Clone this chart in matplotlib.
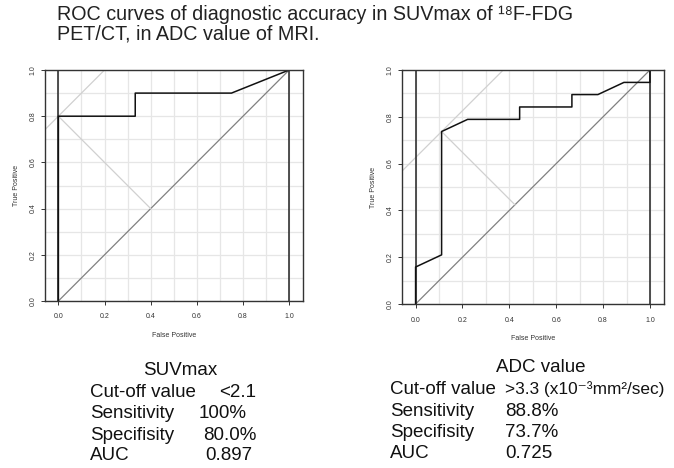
import matplotlib

matplotlib.use("Agg")
import matplotlib.pyplot as plt

plt.rcParams["font.family"] = ["Liberation Sans", "DejaVu Sans"]

# ROC points
suv_fpr = [0, 0, 0.333, 0.333, 0.75, 1]
suv_tpr = [0, 0.8, 0.8, 0.9, 0.9, 1]
suv_cut = (0.0, 0.8)

adc_fpr = [0, 0, 0.111, 0.111, 0.222, 0.444, 0.444, 0.667, 0.667, 0.778, 0.889, 1, 1]
adc_tpr = [0, 0.158, 0.21, 0.737, 0.789, 0.789, 0.842, 0.842, 0.895, 0.895, 0.947, 0.947, 1]
adc_cut = (0.111, 0.737)

ticks = [0.0, 0.2, 0.4, 0.6, 0.8, 1.0]
grid = [i / 10 for i in range(11)]

suv_rows = [("Cut-off value", "<2.1"), ("Sensitivity", "100%"),
            ("Specifisity", "80.0%"), ("AUC", "0.897")]
adc_rows = [("Cut-off value", ">3.3 (x10\u207b\u00b3mm\u00b2/sec)"),
            ("Sensitivity", "88.8%"), ("Specifisity", "73.7%"), ("AUC", "0.725")]

W, H = 674, 468
fig = plt.figure(figsize=(W / 100, H / 100), dpi=100)


def px(x, y):
    return x / W, 1 - y / H


def roc_panel(rect, fpr, tpr, cut):
    ax = fig.add_axes(rect)
    ax.set_xlim(-0.058, 1.06)
    ax.set_ylim(0, 1)
    for g in grid:
        ax.axvline(g, color="#e6e6e6", lw=0.9, zorder=0)
        ax.axhline(g, color="#e6e6e6", lw=0.9, zorder=0)
    ax.plot([0, 1], [0, 1], color="#808080", lw=0.9)
    fx, ty = cut
    ax.axline((fx, ty), slope=1, color="#d0d0d0", lw=0.9)
    m = (fx + ty) / 2  # foot of the perpendicular on the chance line
    ax.plot([fx, m], [ty, m], color="#d0d0d0", lw=0.9)
    ax.axvline(0, color="#222222", lw=1.1)
    ax.axvline(1, color="#222222", lw=1.1)
    ax.plot(fpr, tpr, color="#111111", lw=1.1)
    for s in ax.spines.values():
        s.set_color("#333333")
        s.set_linewidth(1.0)
    ax.set_xticks(ticks)
    ax.set_yticks(ticks)
    ax.set_xticklabels([f"{t:.1f}" for t in ticks])
    ax.set_yticklabels([f"{t:.1f}" for t in ticks], rotation=90, va="center")
    ax.tick_params(labelsize=5, colors="#333333", length=3, width=0.7)
    ax.tick_params(axis="x", pad=6)
    ax.tick_params(axis="y", pad=3)
    ax.set_xlabel("False Positive", fontsize=5, color="#333333", labelpad=8.5)
    ax.set_ylabel("True Positive", fontsize=5, color="#333333", labelpad=7)
    return ax


roc_panel([45 / W, 1 - 301 / H, 258 / W, 231 / H], suv_fpr, suv_tpr, suv_cut)
roc_panel([402 / W, 1 - 304 / H, 262 / W, 234 / H], adc_fpr, adc_tpr, adc_cut)

title_size = 14.2
fig.text(*px(57, 20.5), "ROC curves of diagnostic accuracy in SUVmax of \u00b9\u2078F-FDG",
         fontsize=title_size, va="baseline", color="#222222")
fig.text(*px(57, 39), "PET/CT, in ADC value of MRI.", fontsize=title_size, va="baseline",
         color="#222222")

tsize = 13.5


def stats_block(head_x, lab_x, val_xs, base_ys, head, rows, val_sizes):
    fig.text(*px(head_x, base_ys[0]), head, fontsize=tsize, ha="center", va="baseline",
             color="#111111")
    for (lab, val), vx, y, vs in zip(rows, val_xs, base_ys[1:], val_sizes):
        fig.text(*px(lab_x, y), lab, fontsize=tsize, va="baseline", color="#111111")
        fig.text(*px(vx, y), val, fontsize=vs, va="baseline", color="#111111")


stats_block(180, 90, [219, 199, 203, 205], [375, 397, 418, 440, 460.5], "SUVmax",
            suv_rows, [tsize] * 4)
stats_block(541, 390, [505, 505, 505, 505], [372, 394, 415.5, 437, 458], "ADC value",
            adc_rows, [12.4, tsize, tsize, tsize])

fig.savefig("out.png", dpi=100)
